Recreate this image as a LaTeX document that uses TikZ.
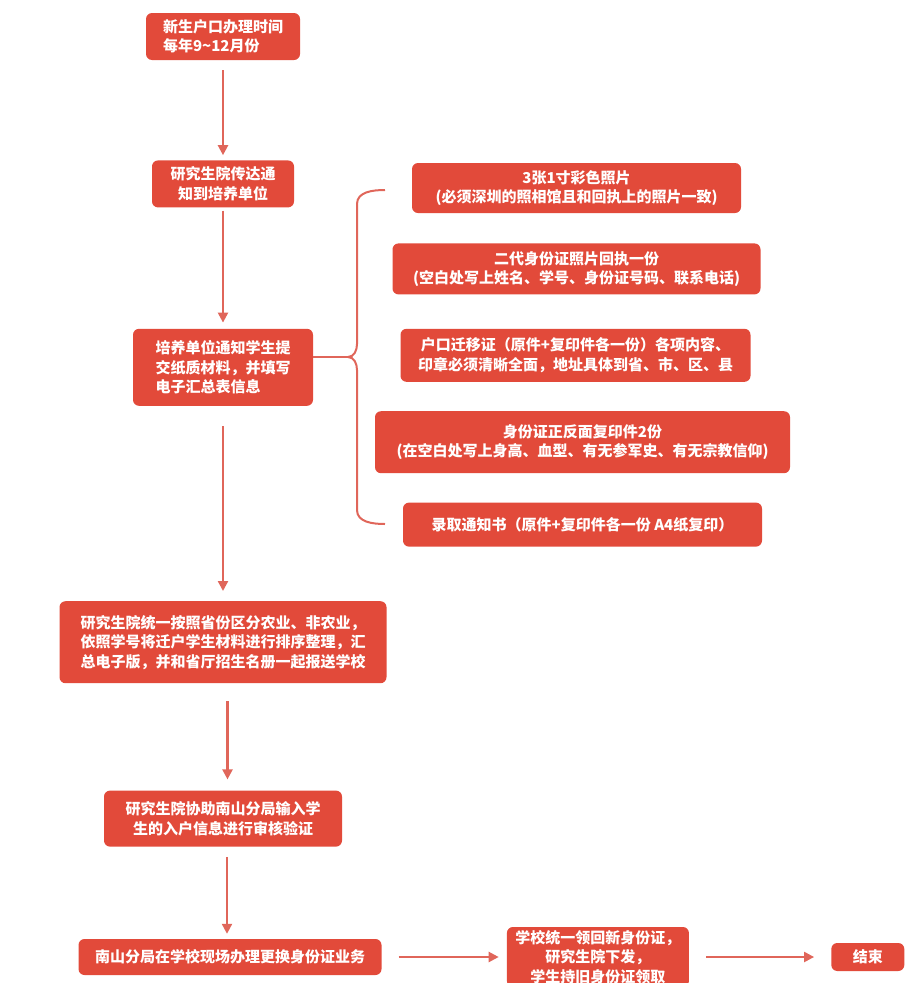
\documentclass[tikz,border=0pt]{standalone}
\usepackage{fontspec}
\newfontfamily\cjk{Noto Sans CJK SC}
\usetikzlibrary{positioning, arrows.meta}
\definecolor{boxred}{RGB}{226,74,58}
\definecolor{linered}{RGB}{224,102,90}
\tikzset{%
  x=1pt, y=-1pt,
  node distance=100pt, % gaps are set per node below
  box/.style={%
    draw=none, fill=boxred, rounded corners=6pt, text=white,
    font=\cjk\bfseries\fontsize{15pt}{19.5pt}\selectfont,
    align=center, inner sep=2pt
  },
  every edge/.style={%
    draw=linered, line width=2.2pt, -{Triangle[length=10pt,width=10pt]}
  }
}

\begin{document}
\begin{tikzpicture}
    \useasboundingbox (0,0) rectangle (919,983);

    % main column
    \node[box, align=left, minimum width=154pt, minimum height=47pt] (b1) at (223,36.5)
        {新生户口办理时间\\每年9\textasciitilde12月份};
    \node[box, minimum width=142pt, minimum height=47pt, below=100pt of b1] (b2)
        {研究生院传达通\\知到培养单位};
    \node[box, align=left, minimum width=180pt, minimum height=77pt, below=121pt of b2] (b3)
        {培养单位通知学生提\\交纸质材料，并填写\\电子汇总表信息};
    \node[box, align=left, minimum width=327pt, minimum height=82pt, below=195pt of b3] (b4)
        {研究生院统一按照省份区分农业、非农业，\\依照学号将迁户学生材料进行排序整理，汇\\总电子版，并和省厅招生名册一起报送学校};
    \node[box, minimum width=238pt, minimum height=56pt, below=107pt of b4] (b5)
        {研究生院协助南山分局输入学\\生的入户信息进行审核验证};
    \node[box, minimum width=303pt, minimum height=36pt, below=92pt of b5, xshift=7pt] (b6)
        {南山分局在学校现场办理更换身份证业务};
    \node[box, minimum width=182pt, minimum height=60pt, right=125pt of b6] (b7)
        {学校统一领回新身份证，\\研究生院下发，\\学生持旧身份证领取};
    \node[box, minimum width=73pt, minimum height=28pt, right=142pt of b7] (b8)
        {结束};

    % materials list
    \node[box, minimum width=329pt, minimum height=50pt] (r1) at (576.5,188)
        {3张1寸彩色照片\\(必须深圳的照相馆且和回执上的照片一致)};
    \node[box, minimum width=368pt, minimum height=51pt, below=30pt of r1] (r2)
        {二代身份证照片回执一份\\(空白处写上姓名、学号、身份证号码、联系电话)};
    \node[box, minimum width=350pt, minimum height=53pt, below=34pt of r2, xshift=-1pt] (r3)
        {户口迁移证（原件+复印件各一份）各项内容、\\印章必须清晰全面，地址具体到省、市、区、县};
    \node[box, minimum width=415pt, minimum height=62pt, below=29pt of r3, xshift=7pt] (r4)
        {身份证正反面复印件2份\\(在空白处写上身高、血型、有无参军史、有无宗教信仰)};
    \node[box, minimum width=359pt, minimum height=44pt, below=29pt of r4] (r5)
        {录取通知书（原件+复印件各一份 A4纸复印）};

    % brace
    \coordinate (brtop) at (385,190);
    \coordinate (brmid) at (348,357);
    \coordinate (brbot) at (385,524);
    \draw[linered, line width=2pt, rounded corners=0pt]
        (brtop) to[out=180, in=90] (357,204) -- (357,344)
        to[out=-90, in=0] (brmid) to[out=0, in=90] (357,370) -- (357,510)
        to[out=-90, in=180] (brbot);
    \draw[linered, line width=2pt] (b3.east |- brmid) -- (brmid);

    \draw (b1) edge[shorten <=10pt, shorten >=5pt] (b2);
    \draw (b2) edge[shorten <=3pt, shorten >=6pt] (b3);
    \draw (b3) edge[shorten <=20pt, shorten >=10pt] (b4);
    \draw ([xshift=4.5pt]b4.south) edge[shorten <=18pt, shorten >=11pt] ([xshift=4.5pt]b4.south |- b5.north);
    \draw ([xshift=4pt]b5.south) edge[shorten <=10pt, shorten >=5pt] ([xshift=4pt]b5.south |- b6.north);
    \draw (b6) edge[shorten <=17pt, shorten >=8pt] (b7);
    \draw (b7) edge[shorten <=17pt, shorten >=17pt] (b8);
\end{tikzpicture}
\end{document}
